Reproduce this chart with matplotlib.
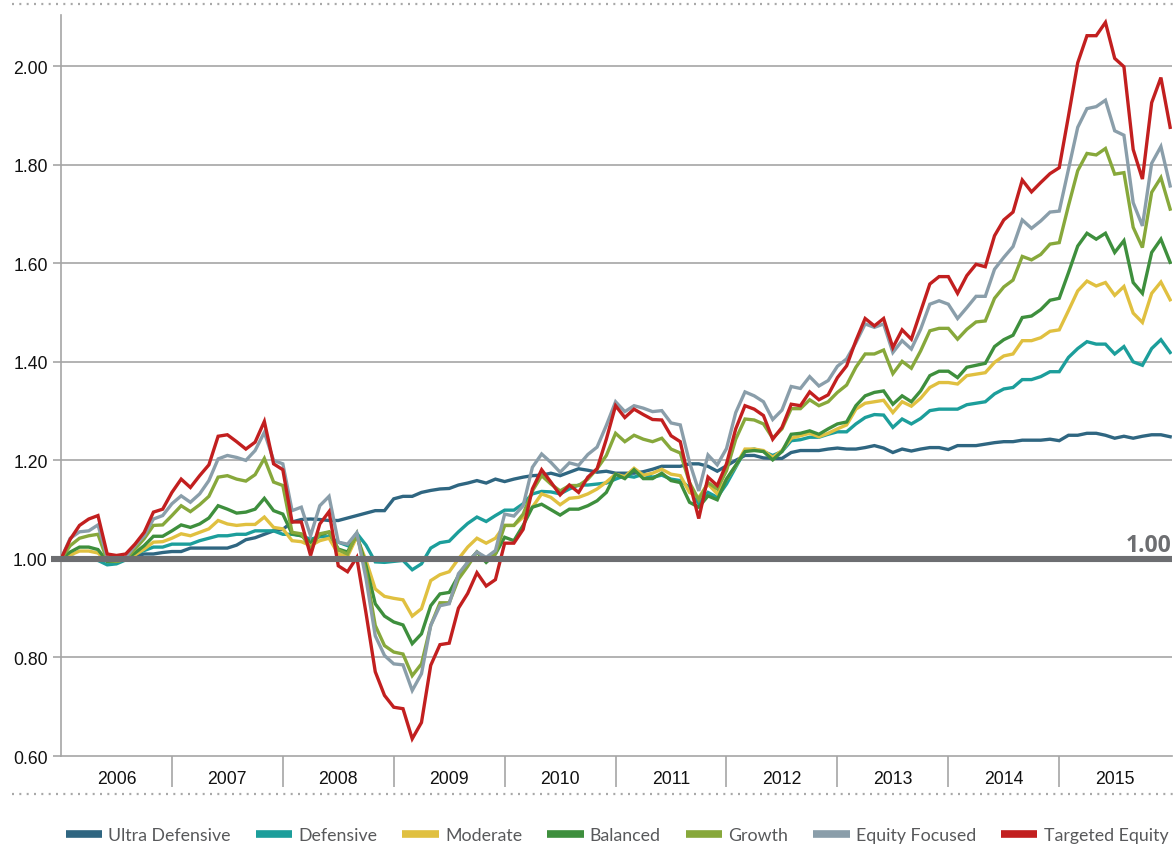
import matplotlib
matplotlib.use("Agg")
import matplotlib.pyplot as plt
from matplotlib.lines import Line2D
import numpy as np

# ---------------- data (monthly growth of $1, Dec-2005 .. Dec-2015) ----------------
years = ["2006", "2007", "2008", "2009", "2010", "2011", "2012", "2013", "2014", "2015"]

ultra_defensive = [
    1.000, 1.000, 0.999, 0.998, 0.998, 0.997, 0.998, 1.000, 1.006, 1.010,
    1.010, 1.013, 1.015, 1.015, 1.022, 1.022, 1.022, 1.022, 1.022, 1.028,
    1.039, 1.043, 1.050, 1.057, 1.060, 1.075, 1.080, 1.081, 1.080, 1.078,
    1.078, 1.083, 1.088, 1.093, 1.098, 1.098, 1.122, 1.127, 1.127, 1.135,
    1.139, 1.142, 1.143, 1.150, 1.154, 1.159, 1.154, 1.162, 1.157, 1.162,
    1.166, 1.169, 1.170, 1.174, 1.169, 1.176, 1.183, 1.180, 1.176, 1.178,
    1.174, 1.174, 1.174, 1.177, 1.182, 1.188, 1.188, 1.188, 1.193, 1.193,
    1.188, 1.178, 1.189, 1.200, 1.210, 1.210, 1.205, 1.204, 1.204, 1.216,
    1.220, 1.220, 1.220, 1.223, 1.225, 1.223, 1.223, 1.226, 1.230, 1.225,
    1.216, 1.223, 1.219, 1.223, 1.226, 1.226, 1.222, 1.230, 1.230, 1.230,
    1.233, 1.236, 1.238, 1.238, 1.241, 1.241, 1.241, 1.243, 1.240, 1.251,
    1.251, 1.255, 1.255, 1.251, 1.245, 1.249, 1.245, 1.249, 1.252, 1.252, 1.248]

defensive = [
    1.000, 1.005, 1.000, 0.998, 0.997, 0.988, 0.990, 0.998, 1.010, 1.017,
    1.024, 1.024, 1.030, 1.030, 1.030, 1.037, 1.042, 1.047, 1.047, 1.050,
    1.050, 1.057, 1.057, 1.057, 1.050, 1.050, 1.047, 1.040, 1.045, 1.045,
    1.034, 1.027, 1.052, 1.028, 0.994, 0.993, 0.995, 0.997, 0.978, 0.990,
    1.022, 1.033, 1.036, 1.055, 1.072, 1.085, 1.076, 1.088, 1.099, 1.099,
    1.112, 1.132, 1.137, 1.136, 1.132, 1.142, 1.150, 1.150, 1.152, 1.154,
    1.162, 1.169, 1.166, 1.172, 1.166, 1.170, 1.162, 1.159, 1.145, 1.112,
    1.135, 1.125, 1.152, 1.186, 1.220, 1.223, 1.218, 1.210, 1.218, 1.240,
    1.242, 1.247, 1.247, 1.253, 1.258, 1.258, 1.274, 1.287, 1.293, 1.292,
    1.267, 1.284, 1.274, 1.285, 1.301, 1.304, 1.304, 1.304, 1.313, 1.316,
    1.319, 1.335, 1.345, 1.348, 1.364, 1.364, 1.370, 1.380, 1.380, 1.409,
    1.427, 1.441, 1.436, 1.436, 1.416, 1.431, 1.400, 1.393, 1.427, 1.445, 1.419]

moderate = [
    1.000, 1.008, 1.016, 1.016, 1.012, 0.995, 0.995, 0.999, 1.008, 1.020,
    1.034, 1.035, 1.042, 1.051, 1.047, 1.054, 1.061, 1.078, 1.071, 1.068,
    1.070, 1.070, 1.085, 1.064, 1.061, 1.037, 1.035, 1.027, 1.037, 1.042,
    1.010, 1.005, 1.045, 0.997, 0.939, 0.924, 0.920, 0.917, 0.884, 0.899,
    0.956, 0.968, 0.974, 1.000, 1.024, 1.042, 1.032, 1.042, 1.068, 1.068,
    1.085, 1.105, 1.132, 1.125, 1.110, 1.123, 1.125, 1.132, 1.142, 1.156,
    1.172, 1.167, 1.184, 1.170, 1.174, 1.182, 1.172, 1.169, 1.135, 1.125,
    1.152, 1.132, 1.162, 1.189, 1.223, 1.223, 1.220, 1.206, 1.220, 1.245,
    1.250, 1.255, 1.248, 1.255, 1.264, 1.272, 1.304, 1.316, 1.319, 1.322,
    1.297, 1.319, 1.310, 1.326, 1.348, 1.358, 1.358, 1.355, 1.372, 1.375,
    1.378, 1.399, 1.412, 1.416, 1.443, 1.443, 1.449, 1.462, 1.465, 1.504,
    1.544, 1.564, 1.554, 1.561, 1.535, 1.553, 1.499, 1.480, 1.539, 1.562, 1.526]

balanced = [
    1.000, 1.014, 1.024, 1.024, 1.019, 0.995, 0.995, 1.000, 1.012, 1.027,
    1.046, 1.046, 1.057, 1.069, 1.064, 1.071, 1.083, 1.108, 1.101, 1.093,
    1.095, 1.101, 1.123, 1.098, 1.091, 1.051, 1.047, 1.034, 1.049, 1.054,
    1.020, 1.014, 1.049, 0.986, 0.909, 0.884, 0.872, 0.866, 0.828, 0.848,
    0.905, 0.929, 0.932, 0.966, 0.993, 1.014, 0.993, 1.010, 1.044, 1.037,
    1.068, 1.105, 1.111, 1.100, 1.089, 1.101, 1.101, 1.108, 1.118, 1.135,
    1.172, 1.163, 1.181, 1.163, 1.163, 1.174, 1.159, 1.155, 1.115, 1.105,
    1.128, 1.120, 1.162, 1.190, 1.218, 1.220, 1.218, 1.201, 1.218, 1.253,
    1.255, 1.260, 1.253, 1.264, 1.274, 1.278, 1.311, 1.331, 1.338, 1.341,
    1.314, 1.331, 1.319, 1.341, 1.372, 1.381, 1.381, 1.368, 1.389, 1.393,
    1.397, 1.431, 1.445, 1.454, 1.490, 1.493, 1.506, 1.525, 1.529, 1.581,
    1.635, 1.661, 1.649, 1.661, 1.622, 1.646, 1.561, 1.539, 1.622, 1.649, 1.602]

growth = [
    1.000, 1.027, 1.042, 1.047, 1.050, 0.997, 0.995, 1.000, 1.020, 1.041,
    1.068, 1.069, 1.088, 1.108, 1.096, 1.110, 1.127, 1.166, 1.169, 1.162,
    1.158, 1.171, 1.204, 1.156, 1.149, 1.054, 1.051, 1.020, 1.051, 1.055,
    1.018, 1.010, 1.051, 0.973, 0.865, 0.824, 0.811, 0.807, 0.763, 0.787,
    0.865, 0.911, 0.911, 0.959, 0.985, 1.014, 1.000, 1.010, 1.068, 1.068,
    1.091, 1.138, 1.169, 1.152, 1.138, 1.149, 1.149, 1.162, 1.183, 1.210,
    1.255, 1.238, 1.251, 1.243, 1.238, 1.245, 1.223, 1.215, 1.155, 1.120,
    1.155, 1.142, 1.179, 1.243, 1.284, 1.282, 1.274, 1.245, 1.264, 1.305,
    1.305, 1.323, 1.311, 1.319, 1.338, 1.353, 1.389, 1.416, 1.416, 1.424,
    1.376, 1.401, 1.387, 1.422, 1.463, 1.468, 1.468, 1.446, 1.466, 1.481,
    1.483, 1.529, 1.552, 1.566, 1.614, 1.607, 1.618, 1.639, 1.642, 1.717,
    1.788, 1.823, 1.820, 1.833, 1.781, 1.784, 1.673, 1.632, 1.744, 1.774, 1.710]

equity_focused = [
    1.000, 1.042, 1.055, 1.057, 1.069, 1.003, 1.000, 1.003, 1.027, 1.047,
    1.081, 1.088, 1.112, 1.128, 1.115, 1.132, 1.159, 1.203, 1.210, 1.206,
    1.200, 1.220, 1.257, 1.200, 1.193, 1.098, 1.105, 1.047, 1.108, 1.127,
    1.034, 1.030, 1.053, 0.960, 0.844, 0.804, 0.787, 0.785, 0.733, 0.767,
    0.865, 0.905, 0.909, 0.970, 0.993, 1.014, 1.003, 1.017, 1.091, 1.087,
    1.108, 1.186, 1.213, 1.196, 1.176, 1.195, 1.190, 1.212, 1.227, 1.271,
    1.319, 1.299, 1.311, 1.306, 1.299, 1.301, 1.276, 1.272, 1.196, 1.138,
    1.211, 1.191, 1.224, 1.297, 1.339, 1.331, 1.319, 1.283, 1.302, 1.350,
    1.346, 1.370, 1.351, 1.362, 1.391, 1.406, 1.439, 1.477, 1.470, 1.477,
    1.419, 1.443, 1.426, 1.466, 1.517, 1.524, 1.517, 1.488, 1.510, 1.533,
    1.533, 1.588, 1.612, 1.634, 1.688, 1.671, 1.686, 1.704, 1.706, 1.791,
    1.876, 1.914, 1.918, 1.931, 1.869, 1.860, 1.723, 1.676, 1.803, 1.837, 1.757]

targeted_equity = [
    1.000, 1.040, 1.068, 1.081, 1.088, 1.010, 1.007, 1.010, 1.030, 1.054,
    1.095, 1.101, 1.135, 1.162, 1.145, 1.169, 1.191, 1.249, 1.252, 1.238,
    1.223, 1.237, 1.279, 1.193, 1.181, 1.075, 1.075, 1.007, 1.071, 1.096,
    0.986, 0.974, 1.003, 0.890, 0.771, 0.723, 0.699, 0.696, 0.635, 0.668,
    0.784, 0.826, 0.829, 0.900, 0.930, 0.972, 0.945, 0.958, 1.032, 1.032,
    1.060, 1.142, 1.181, 1.156, 1.130, 1.150, 1.135, 1.166, 1.183, 1.243,
    1.311, 1.287, 1.304, 1.293, 1.283, 1.282, 1.250, 1.238, 1.155, 1.082,
    1.166, 1.149, 1.193, 1.264, 1.311, 1.304, 1.291, 1.243, 1.267, 1.314,
    1.311, 1.339, 1.323, 1.333, 1.368, 1.392, 1.443, 1.488, 1.473, 1.488,
    1.429, 1.465, 1.446, 1.502, 1.558, 1.573, 1.573, 1.539, 1.575, 1.598,
    1.593, 1.656, 1.688, 1.704, 1.769, 1.745, 1.764, 1.782, 1.794, 1.899,
    2.007, 2.062, 2.062, 2.089, 2.016, 1.999, 1.831, 1.771, 1.926, 1.977, 1.876]

series_names = ["Ultra Defensive", "Defensive", "Moderate", "Balanced",
                "Growth", "Equity Focused", "Targeted Equity"]
series_values = [ultra_defensive, defensive, moderate, balanced,
                 growth, equity_focused, targeted_equity]
series_colors = ["#2f6681", "#1c9e9b", "#e0c040", "#3e8f3d",
                 "#87a83b", "#8a9eaa", "#c21f1f"]

yticks = [0.60, 0.80, 1.00, 1.20, 1.40, 1.60, 1.80, 2.00]
baseline = 1.00

# ---------------- figure ----------------
W, H = 1174, 845
fig = plt.figure(figsize=(W / 100, H / 100), dpi=100)
ax = fig.add_axes([61 / W, 1 - 757 / H, (1172 - 61) / W, (757 - 16) / H])

months = np.arange(len(targeted_equity))
for i, (name, vals, col) in enumerate(zip(series_names, series_values, series_colors)):
    ax.plot(months, vals, color=col, lw=2.4, solid_joinstyle="miter",
            label=name, zorder=3 + i)

ax.set_xlim(0, 120.2)
ax.set_ylim(0.60, 2.104)

grid_col = "#a5a5a5"
for y in yticks[1:]:
    if y != baseline:
        ax.axhline(y, color=grid_col, lw=1.2, zorder=1)

# thick baseline at 1.00
ax.axhline(baseline, xmin=-0.009, xmax=1.0, color="#6d6e71", lw=4.4,
           zorder=20, clip_on=False, solid_capstyle="butt")
ax.text(120.15, 1.016, "1.00", ha="right", va="baseline", fontsize=16.5,
        fontweight="bold", color="#6d6e71",
        family=["Open Sans", "DejaVu Sans"], zorder=21)

# spines
for s in ["top", "right"]:
    ax.spines[s].set_visible(False)
ax.spines["left"].set_color(grid_col)
ax.spines["left"].set_linewidth(1.2)
ax.spines["bottom"].set_color(grid_col)
ax.spines["bottom"].set_linewidth(1.2)

# y ticks
ax.set_yticks(yticks)
ax.set_yticklabels([f"{v:.2f}" for v in yticks], fontsize=12.7,
                   family=["Liberation Sans", "DejaVu Sans"], color="#111111")
ax.tick_params(axis="y", length=5.5, width=1.2, color=grid_col, pad=4)

# x ticks: separators at year boundaries, labels centred in years
n_years = len(years)
ax.set_xticks([12 * k for k in range(1, n_years)])
ax.set_xticklabels([])
ax.tick_params(axis="x", which="major", length=22, width=1.2, color=grid_col,
               direction="out")
ax.set_xticks([12 * k + 6 for k in range(n_years)], minor=True)
ax.set_xticklabels(years, minor=True, fontsize=12.7,
                   family=["Liberation Sans", "DejaVu Sans"], color="#111111")
ax.tick_params(axis="x", which="minor", length=0, pad=10)

# dotted separator lines
dot_col = "#a8a8a8"
for yy in [5, 795]:
    fig.add_artist(Line2D([12 / W, 1.0], [1 - yy / H, 1 - yy / H],
                          transform=fig.transFigure, color=dot_col, lw=1.6,
                          linestyle=(0, (0.9, 2.4))))

# legend
handles = [Line2D([0], [0], color=c, lw=5.5, solid_capstyle="butt")
           for c in series_colors]
leg = fig.legend(handles, series_names, loc="center", ncol=7,
                 bbox_to_anchor=(617 / W, 1 - 836 / H), frameon=False,
                 prop={"family": ["Lato", "DejaVu Sans"], "size": 12.8},
                 handlelength=2.05, handletextpad=0.35, columnspacing=1.4,
                 borderaxespad=0, borderpad=0)
for t in leg.get_texts():
    t.set_color("#58595b")

fig.savefig("out.png", dpi=100)
